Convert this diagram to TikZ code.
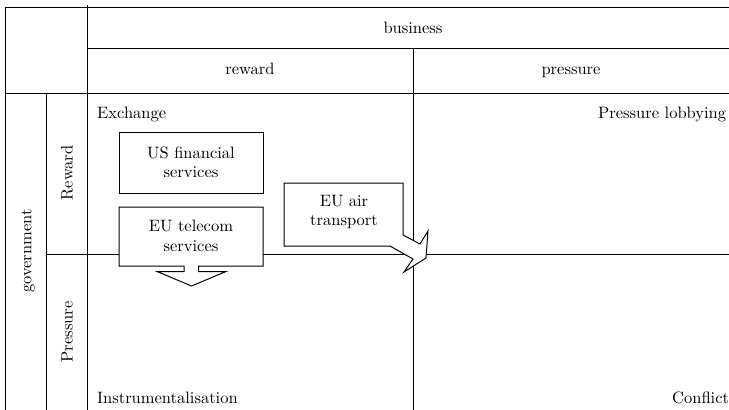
\documentclass[tikz,border=0pt]{standalone}
\usepackage{fontspec}
\setmainfont{lmroman10-regular}[Extension=.otf]
\begin{document}
\tikzset{
  lbl/.style={font=\fontsize{16.5}{19.5}\selectfont, inner sep=0pt},
  gridline/.style={line width=1pt},
  box/.style={draw, line width=1pt, fill=white},
  boxtxt/.style={lbl, align=center}
}
\begin{tikzpicture}[x=1pt,y=-1pt]
\useasboundingbox (0,0) rectangle (729,410);
% grid
\draw[gridline] (5,7) -- (740,7);
\draw[gridline] (5,7) -- (5,415);
\draw[gridline] (87,5) -- (87,415);
\draw[gridline] (87,48.5) -- (740,48.5);
\draw[gridline] (5,93) -- (740,93);
\draw[gridline] (46,93) -- (46,415);
\draw[gridline] (413,48.5) -- (413,415);
\draw[gridline] (46,254) -- (740,254);
% headers
\node[lbl,anchor=base] (business) at (413,33) {business};
\node[lbl,anchor=base] (reward) at (250,74) {reward};
\node[lbl,anchor=base] (pressure) at (571,74) {pressure};
\node[lbl,rotate=90] (gov) at (28,251) {government};
\node[lbl,rotate=90] (rew) at (67,173) {Reward};
\node[lbl,rotate=90] (pres) at (67,332) {Pressure};
% cell labels
\node[lbl,anchor=base west] (exchange) at (97,118) {Exchange};
\node[lbl,anchor=base west] (lobbying) at (598,118) {Pressure lobbying};
\node[lbl,anchor=base west] (instr) at (97,403) {Instrumentalisation};
\node[lbl,anchor=base west] (conflict) at (672,403) {Conflict};
% boxes
\draw[box] (119,132) rectangle (263,193);
\node[boxtxt] (usfin) at (191,162.5) {US financial\\services};
\draw[box] (119,207) -- (263,207) -- (263,266) -- (198.5,266) -- (198.5,271.5)
  -- (226,271.5) -- (191.5,286) -- (157,271.5) -- (184,271.5) -- (184,266)
  -- (119,266) -- cycle;
\node[boxtxt] (eutel) at (191,236) {EU telecom\\services};
\draw[box] (284,183) -- (403,183) -- (403,235) -- (420,244) -- (428,231)
  -- (426,258) -- (404,272) -- (413,259) -- (390,246) -- (284,246) -- cycle;
\node[boxtxt,font=\fontsize{16.5}{18.5}\selectfont] (euair) at (344,212) {EU air\\transport};
\end{tikzpicture}
\end{document}
